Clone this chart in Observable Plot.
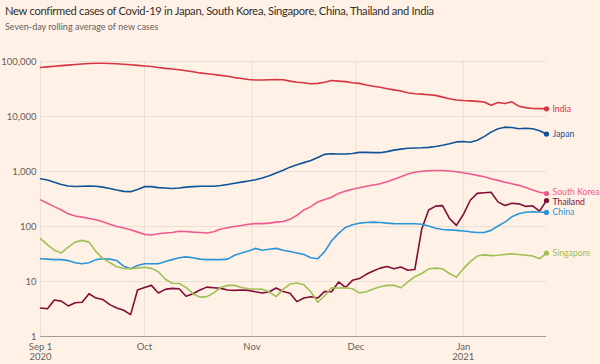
<!DOCTYPE html>
<html>
<head>
<meta charset="utf-8">
<script src="https://cdn.jsdelivr.net/npm/d3@7"></script>
<script src="https://cdn.jsdelivr.net/npm/@observablehq/plot@0.6"></script>
<style>
  html, body { margin: 0; padding: 0; background: #FFF1E5; }
  #wrap { position: relative; width: 600px; height: 364px; background: #FFF1E5; overflow: hidden; font-family: Lato, "Open Sans", sans-serif; }
  #head { position: relative; width: 600px; height: 40px; }
  #title { position: absolute; left: 5px; top: 3.5px; font-size: 11.2px; line-height: 14px; letter-spacing: -0.3px; color: #33302E; white-space: nowrap; }
  #subtitle { position: absolute; left: 5px; top: 20.5px; font-size: 9px; line-height: 11px; color: #66605C; white-space: nowrap; }
  svg { display: block; }
</style>
</head>
<body>
<div id="wrap">
  <div id="head">
    <div id="title">New confirmed cases of Covid-19 in Japan, South Korea, Singapore, China, Thailand and India</div>
    <div id="subtitle">Seven-day rolling average of new cases</div>
  </div>
  <div id="chart"></div>
</div>
<script>
// ---- Data (seven-day rolling average, sampled every 2 days from 1 Sep 2020 to 25 Jan 2021) ----
const startDate = "2020-09-01";
const stepDays = 2;
const countries = ["India", "Japan", "South Korea", "Thailand", "China", "Singapore"];
const colors = ["#D9343F", "#0F5499", "#EE5A8F", "#800D35", "#2B95D9", "#9FC054"];

const india = [78000, 80000, 82000, 84000, 86000, 88000, 90000, 92000, 93000, 93000,
  92000, 91000, 89000, 87000, 85000, 83000, 81000, 78000, 75000, 73000,
  71000, 68000, 65000, 62000, 60000, 58000, 56000, 54000, 51000, 49000,
  47000, 46000, 46000, 46500, 47000, 46500, 44000, 42000, 41000, 39500,
  40000, 42000, 45000, 44000, 43000, 41000, 40000, 37500, 35500, 34000,
  32000, 30500, 29000, 27000, 26000, 25500, 24800, 24200, 22500, 21000,
  20000, 19500, 19200, 18800, 18400, 16000, 18000, 17200, 18500, 15400,
  14500, 14000, 13900, 13800];

const japan = [740, 700, 640, 580, 545, 535, 540, 545, 540, 520,
  490, 460, 435, 430, 470, 530, 530, 510, 500, 490,
  500, 520, 530, 540, 540, 540, 555, 580, 610, 640,
  670, 710, 760, 840, 940, 1050, 1200, 1330, 1450, 1580,
  1800, 2050, 2100, 2080, 2080, 2120, 2230, 2230, 2200, 2200,
  2300, 2450, 2550, 2650, 2680, 2700, 2750, 2850, 3000, 3200,
  3450, 3500, 3400, 3700, 4300, 5200, 6000, 6400, 6300, 6000,
  6100, 6000, 5500, 4800];

const southKorea = [305, 265, 230, 200, 170, 155, 148, 140, 133, 122,
  110, 100, 94, 87, 79, 72, 70, 74, 76, 78,
  82, 81, 79, 78, 76, 80, 90, 95, 100, 104,
  110, 113, 113, 115, 120, 123, 135, 160, 200, 230,
  280, 310, 340, 400, 440, 475, 505, 540, 570, 600,
  650, 720, 800, 900, 970, 1010, 1030, 1040, 1040, 1020,
  990, 950, 900, 850, 800, 740, 690, 640, 600, 560,
  510, 460, 420, 398];

const thailand = [3.3, 3.2, 4.6, 4.4, 3.6, 4.1, 4.2, 6.0, 5.0, 4.7,
  3.8, 3.3, 3.0, 2.5, 7.0, 7.8, 8.5, 6.2, 7.2, 7.5,
  7.4, 5.4, 6.0, 7.0, 7.9, 7.7, 7.5, 7.0, 6.9, 7.0,
  6.9, 6.5, 6.2, 6.5, 7.6, 6.6, 6.1, 4.3, 5.0, 5.3,
  5.0, 6.6, 6.5, 9.8, 7.8, 10.5, 11.3, 13.5, 15.5, 17.5,
  18.7, 17, 18.3, 16, 16.5, 90, 200, 235, 240, 140,
  105, 165, 300, 400, 410, 420, 280, 241, 265, 258,
  232, 238, 190, 297];

const china = [26, 25.5, 25, 25, 24, 22, 21, 22, 25, 26,
  25.5, 24, 19, 17, 19.5, 21, 21, 21, 23, 25,
  27, 28, 27, 25.5, 25, 25, 25, 25.5, 30, 33,
  36, 40, 37, 38.5, 40, 37, 35, 33, 31, 27,
  26, 35, 55, 75, 96, 108, 115, 118, 120, 118,
  115, 113, 112, 112, 112, 110, 102, 93, 88, 87,
  85, 83, 80, 78, 78, 85, 102, 120, 150, 170,
  182, 185, 184, 180];

const singapore = [60, 47, 37, 33, 42, 52, 56, 52, 35, 26,
  22, 18.5, 17.2, 17, 17.5, 18.2, 17.3, 15, 11, 9.3,
  9.2, 7.8, 6, 5.2, 5.3, 6.2, 7.8, 8.5, 8.5, 7.8,
  7.4, 7.3, 7.2, 6.5, 5.3, 7.2, 9, 9.4, 8.7, 6.5,
  4.2, 5.5, 7.7, 7.6, 7.7, 7.4, 6.2, 6.5, 7.3, 8,
  8.5, 8.5, 7.7, 9.8, 12.2, 14, 17, 17.5, 17, 14,
  12, 17, 23, 29, 30.5, 29.5, 30, 31, 32, 31,
  30, 29, 26, 32.7];

const yTicks = [1, 10, 100, 1000, 10000, 100000];
const xTicks = ["2020-09-01", "2020-10-01", "2020-11-01", "2020-12-01", "2021-01-01"];
const xTickLabels = ["Sep 1\n2020", "Oct", "Nov", "Dec", "Jan\n2021"];
const endDate = "2021-01-25";

// ---- Build table ----
const seriesValues = {"India": india, "Japan": japan, "South Korea": southKorea, "Thailand": thailand, "China": china, "Singapore": singapore};
const t0 = new Date(startDate);
const rows = [];
for (const c of countries) {
  seriesValues[c].forEach((v, i) => rows.push({country: c, date: d3.utcDay.offset(t0, i * stepDays), value: v}));
}
const lasts = countries.map(c => rows.filter(r => r.country === c).at(-1));
const labelsUp = lasts.filter(d => d.country === "South Korea");
const labelsDown = lasts.filter(d => d.country === "Thailand");
const labelsMid = lasts.filter(d => d.country !== "South Korea" && d.country !== "Thailand");

const grid = "#EBDFD5";
const ink = "#66605C";
const xTickDates = xTicks.map(d => new Date(d));
const labelOpts = {x: "date", y: "value", text: "country", fill: "country", textAnchor: "start", dx: 6, fontSize: 8.7};

const chart = Plot.plot({
  width: 600,
  height: 324,
  marginTop: 21,
  marginBottom: 28,
  marginLeft: 40,
  marginRight: 54,
  style: {background: "transparent", fontFamily: "Lato, 'Open Sans', sans-serif", fontSize: "9.5px", color: ink, overflow: "visible"},
  x: {type: "utc", domain: [t0, new Date(endDate)]},
  y: {type: "log", domain: [1, 100000]},
  color: {domain: countries, range: colors},
  marks: [
    Plot.ruleY(yTicks.slice(1), {stroke: grid, strokeWidth: 1}),
    Plot.ruleX(xTickDates, {stroke: grid, strokeWidth: 1}),
    Plot.ruleY([1], {stroke: "#A59D95", strokeWidth: 1}),
    Plot.axisY({ticks: yTicks, tickFormat: d3.format(","), tickSize: 0, tickPadding: 4, fill: ink, fontSize: 9.5, label: null}),
    Plot.axisX({ticks: xTickDates, tickFormat: (d, i) => xTickLabels[i], tickSize: 0, tickPadding: 6, fill: ink, fontSize: 9.5, label: null, lineHeight: 1.1}),
    Plot.line(rows, {x: "date", y: "value", z: "country", stroke: "country", strokeWidth: 1.6, curve: "linear"}),
    Plot.dot(lasts, {x: "date", y: "value", fill: "country", r: 2.6}),
    Plot.text(labelsMid, {...labelOpts}),
    Plot.text(labelsUp, {...labelOpts, dy: -1}),
    Plot.text(labelsDown, {...labelOpts, dy: 2})
  ]
});
document.getElementById("chart").appendChild(chart);
</script>
</body>
</html>
